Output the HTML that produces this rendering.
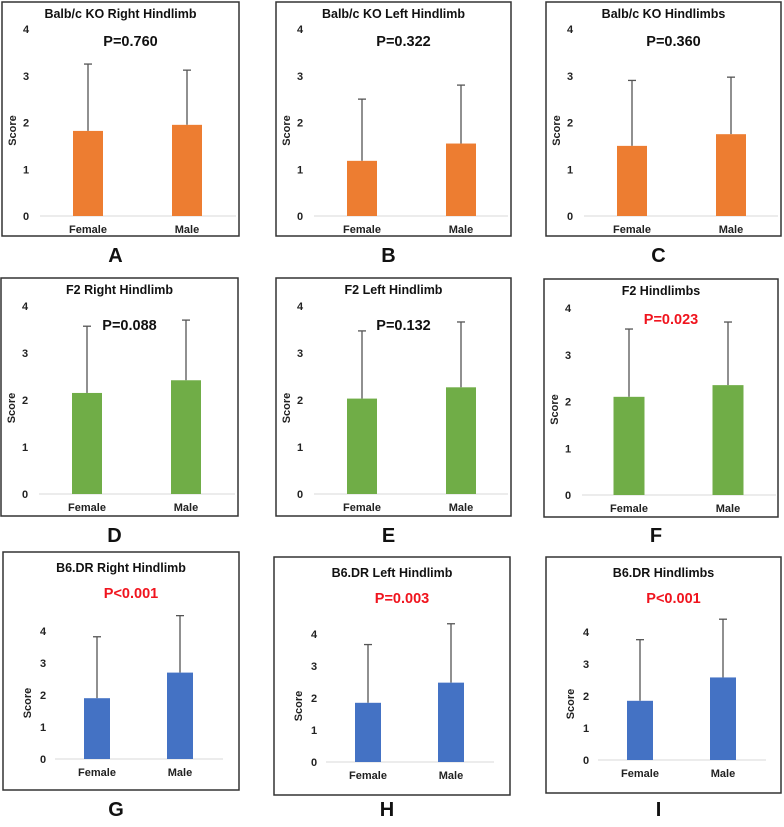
<!DOCTYPE html>
<html><head><meta charset="utf-8"><style>
body{margin:0;background:#fff;}
svg text{font-family:"Liberation Sans",Arial,sans-serif;font-weight:bold;}
</style></head><body>
<svg id="c" width="784" height="822" viewBox="0 0 784 822" xmlns="http://www.w3.org/2000/svg"></svg>
<script>
const categories = ["Female","Male"];
const titles = ["Balb/c KO Right Hindlimb","Balb/c KO Left Hindlimb","Balb/c KO Hindlimbs","F2 Right Hindlimb","F2 Left Hindlimb","F2 Hindlimbs","B6.DR  Right Hindlimb","B6.DR  Left Hindlimb","B6.DR  Hindlimbs"];
const pLabels = ["P=0.760","P=0.322","P=0.360","P=0.088","P=0.132","P=0.023","P<0.001","P=0.003","P<0.001"];
const pSignificant = [false,false,false,false,false,true,true,true,true];
const letters = ["A","B","C","D","E","F","G","H","I"];
const femaleMeans = [1.82,1.18,1.5,2.15,2.03,2.1,1.9,1.85,1.85];
const maleMeans = [1.95,1.55,1.75,2.42,2.27,2.35,2.7,2.48,2.58];
const femaleErrTop = [3.25,2.5,2.9,3.57,3.47,3.55,3.82,3.67,3.76];
const maleErrTop = [3.12,2.8,2.97,3.7,3.66,3.7,4.48,4.32,4.4];
const yTicks = [0,1,2,3,4];

const colors = ["#ED7D31","#ED7D31","#ED7D31","#70AD47","#70AD47","#70AD47","#4472C4","#4472C4","#4472C4"];
const layouts = [
 {x:2,y:2,w:237,h:234,y0:216,y4:29,ly:262,ty:18,py:46,fx:86,mx:185,bw:30,ax0:38,ax1:234,yl:24},
 {x:276,y:2,w:235,h:234,y0:216,y4:29,ly:262,ty:18,py:46,fx:86,mx:185,bw:30,ax0:38,ax1:232,yl:24},
 {x:546,y:2,w:235,h:234,y0:216,y4:29,ly:262,ty:18,py:46,fx:86,mx:185,bw:30,ax0:38,ax1:232,yl:24},
 {x:1,y:278,w:237,h:238,y0:494,y4:306,ly:542,ty:294,py:330,fx:86,mx:185,bw:30,ax0:38,ax1:234,yl:24},
 {x:276,y:278,w:235,h:238,y0:494,y4:306,ly:542,ty:294,py:330,fx:86,mx:185,bw:30,ax0:38,ax1:232,yl:24},
 {x:544,y:279,w:234,h:238,y0:495,y4:308,ly:542,ty:295,py:324,fx:85,mx:184,bw:31,ax0:38,ax1:232,yl:24},
 {x:3,y:552,w:236,h:238,y0:759,y4:631,ly:816,ty:572,py:598,fx:94,mx:177,bw:26,ax0:52,ax1:220,yl:40},
 {x:274,y:557,w:236,h:238,y0:762,y4:634,ly:816,ty:577,py:603,fx:94,mx:177,bw:26,ax0:52,ax1:220,yl:40},
 {x:546,y:557,w:235,h:236,y0:760,y4:632,ly:816,ty:577,py:603,fx:94,mx:177,bw:26,ax0:52,ax1:220,yl:40}
];
const svg=document.getElementById('c');
const NS="http://www.w3.org/2000/svg";
function mk(tag,attrs,parent,txt){const e=document.createElementNS(NS,tag);for(const k in attrs)e.setAttribute(k,attrs[k]);if(txt!==undefined)e.textContent=txt;parent.appendChild(e);return e;}

layouts.forEach((L,i)=>{
  const g=mk('g',{},svg);
  
  
  const yS=v=>L.y0+(L.y4-L.y0)*v/4;
  const box=mk('rect',{x:L.x,y:L.y,width:L.w,height:L.h,fill:'#fff',stroke:'#333','stroke-width':1.5},g);
  
  
  const t=mk('text',{x:L.x+L.w/2,y:L.ty,'text-anchor':'middle','font-size':12.5,fill:'#111'},g,titles[i]);
  
  
  const p=mk('text',{x:L.x+L.w/2+10,y:L.py,'text-anchor':'middle','font-size':14.5,fill:pSignificant[i]?'#f0141e':'#111'},g,pLabels[i]);
  
  
  const ax=mk('line',{x1:L.x+L.ax0,x2:L.x+L.ax1,y1:L.y0,y2:L.y0,stroke:'#d9d9d9','stroke-width':1},g);
  
  
  yTicks.forEach(v=>{
    const tl=mk('text',{x:L.x+L.yl,y:yS(v)+4,'text-anchor':'middle','font-size':11,fill:'#222'},g,String(v));
    
    
  });
  const cy=(L.y0+L.y4)/2;
  const sl=mk('text',{x:0,y:0,transform:`translate(${L.x+(i>=6?28:14)},${cy+8}) rotate(-90)`,'text-anchor':'middle','font-size':11,fill:'#222'},g,'Score');
  
  
  const means=[femaleMeans[i],maleMeans[i]], tops=[femaleErrTop[i],maleErrTop[i]], offs=[L.fx,L.mx];
  categories.forEach((c,j)=>{
    const cx=L.x+offs[j];
    const el=mk('line',{x1:cx,x2:cx,y1:yS(means[j]),y2:yS(tops[j]),stroke:'#555','stroke-width':1.3},g);
    
    
    const cap=mk('line',{x1:cx-4,x2:cx+4,y1:yS(tops[j]),y2:yS(tops[j]),stroke:'#555','stroke-width':1.3},g);
    
    
    const b=mk('rect',{x:cx-L.bw/2,y:yS(means[j]),width:L.bw,height:L.y0-yS(means[j]),fill:colors[i]},g);
    
    
    const cl=mk('text',{x:cx,y:L.y0+17,'text-anchor':'middle','font-size':11,fill:'#222'},g,c);
    
    
  });
  const lt=mk('text',{x:L.x+L.w/2-5,y:L.ly,'text-anchor':'middle','font-size':20,fill:'#111'},g,letters[i]);
  
  
});
</script>
</body></html>
